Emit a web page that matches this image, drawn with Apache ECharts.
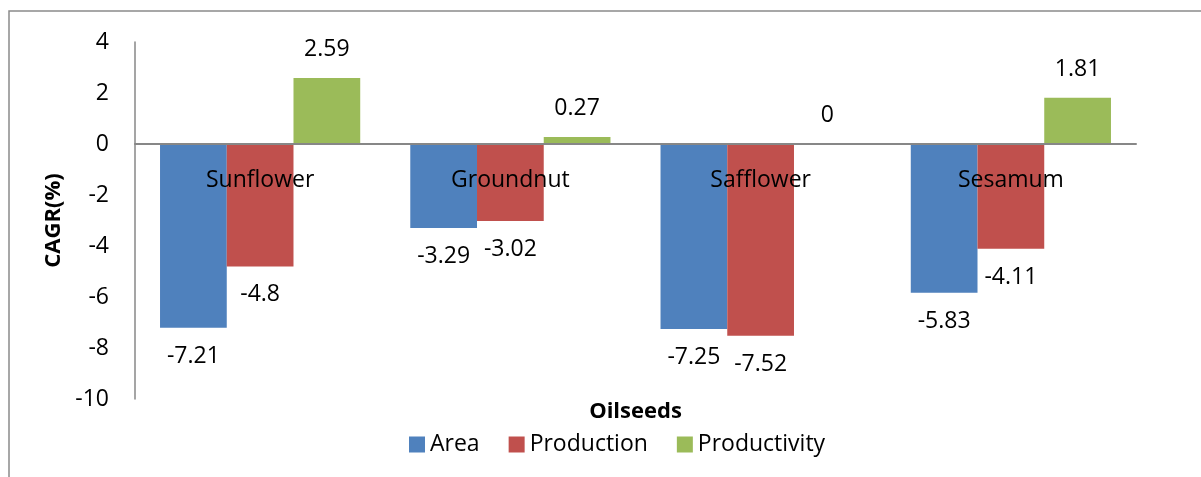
<!DOCTYPE html>
<html>
<head>
<meta charset="utf-8">
<script src="https://cdn.jsdelivr.net/npm/echarts@6/dist/echarts.min.js"></script>
<style>
  html, body { margin: 0; padding: 0; background: #fff; }
  #chart { width: 1201px; height: 477px; }
</style>
</head>
<body>
<div id="chart"></div>
<script>
const categories = ['Sunflower', 'Groundnut', 'Safflower', 'Sesamum'];
const seriesNames = ['Area', 'Production', 'Productivity'];
const area = [-7.21, -3.29, -7.25, -5.83];
const production = [-4.8, -3.02, -7.52, -4.11];
const productivity = [2.59, 0.27, 0, 1.81];
const colors = ['#4F81BD', '#C0504D', '#9BBB59'];

const font = '"Open Sans", "Liberation Sans", sans-serif';

// x axis sits on the zero line: grid is 357px tall, 0 is 255px above the bottom
const zeroOffset = -255;

function toData(values) {
  return values.map(v => ({
    value: v,
    label: { position: v < 0 ? 'bottom' : 'top' }
  }));
}

const chart = echarts.init(document.getElementById('chart'));

const option = {
  animation: false,
  textStyle: { fontFamily: font },
  graphic: [
    {
      type: 'rect',
      shape: { x: 9, y: 11, width: 1400, height: 700 },
      style: { fill: 'none', stroke: '#8a8a8a', lineWidth: 1.5 },
      silent: true
    }
  ],
  grid: { left: 135, right: 65, top: 42, bottom: 78, containLabel: false, outerBoundsMode: 'none' },
  legend: {
    data: seriesNames,
    bottom: 16,
    left: 404,
    icon: 'rect',
    itemWidth: 16,
    itemHeight: 16,
    itemGap: 29,
    textStyle: { fontSize: 23, color: '#000', fontFamily: font }
  },
  xAxis: {
    type: 'category',
    data: categories,
    z: 10,
    offset: zeroOffset,
    name: 'Oilseeds',
    nameLocation: 'middle',
    nameGap: 257,
    nameTextStyle: { fontSize: 22, fontWeight: 'bold', color: '#000', fontFamily: font },
    axisLine: { onZero: false, lineStyle: { color: '#878787', width: 2 } },
    axisTick: { show: false },
    axisLabel: { fontSize: 23, color: '#000', margin: 25, fontFamily: font }
  },
  yAxis: {
    type: 'value',
    min: -10,
    max: 4,
    interval: 2,
    name: 'CAGR(%)',
    nameLocation: 'middle',
    nameGap: 66,
    nameTextStyle: { fontSize: 22, fontWeight: 'bold', color: '#000', fontFamily: font },
    axisLine: { show: true, lineStyle: { color: '#878787', width: 1.5 } },
    axisTick: { show: false },
    splitLine: { show: false },
    axisLabel: { fontSize: 23, color: '#000', margin: 26, fontFamily: font }
  },
  series: [area, production, productivity].map((vals, i) => ({
    name: seriesNames[i],
    type: 'bar',
    data: toData(vals),
    barGap: '0%',
    barCategoryGap: '20%',
    itemStyle: { color: colors[i] },
    label: {
      show: true,
      distance: 17,
      fontSize: 23,
      color: '#000',
      fontFamily: font
    }
  }))
};

chart.setOption(option);
</script>
</body>
</html>
